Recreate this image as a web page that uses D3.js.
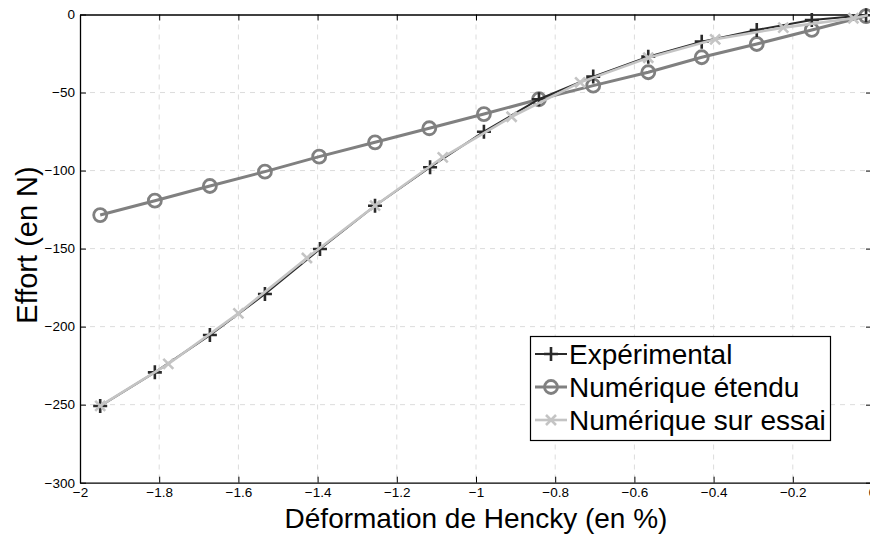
<!DOCTYPE html>
<html><head><meta charset="utf-8">
<script src="https://cdn.jsdelivr.net/npm/d3@7"></script>
<style>body{margin:0;background:#fff;} svg{display:block;font-family:"Liberation Sans",Arial,sans-serif;}</style>
</head><body><svg id="c" width="870" height="534"></svg>
<script>
const xTicks = [-2,-1.8,-1.6,-1.4,-1.2,-1,-0.8,-0.6,-0.4,-0.2,0];
const yTicks = [0,-50,-100,-150,-200,-250,-300];
const expX = [-1.949,-1.811,-1.672,-1.533,-1.394,-1.255,-1.116,-0.980,-0.841,-0.704,-0.565,-0.430,-0.291,-0.152,-0.015];
const expY = [-250.9,-229.3,-205.4,-179.1,-150.3,-122.5,-97.9,-75.1,-54.3,-39.8,-27.0,-17.4,-9.9,-3.5,-0.5];
const etX = [-1.949,-1.811,-1.672,-1.533,-1.396,-1.255,-1.118,-0.980,-0.841,-0.704,-0.565,-0.430,-0.291,-0.152,-0.015];
const etY = [-128.5,-119.3,-109.9,-100.7,-91.1,-81.9,-72.9,-63.8,-54.3,-45.6,-37.0,-27.4,-18.9,-9.9,-1.0];
const esX = [-1.949,-1.777,-1.600,-1.427,-1.255,-1.084,-0.910,-0.737,-0.565,-0.396,-0.224,-0.047,-0.010];
const esY = [-250.8,-223.9,-191.5,-156.0,-122.5,-91.5,-65.5,-43.5,-27.7,-15.9,-8.4,-2.4,-0.5];
const names = ["Expérimental","Numérique étendu","Numérique sur essai"];

const L=80,R=872,T=14.5,B=482.7;
const svg=d3.select("#c");
const x=d3.scaleLinear().domain([-2,0]).range([L,R]);
const y=d3.scaleLinear().domain([-300,0]).range([B,T]);
const fmt=d=>d===0?"0":String(d).replace("-","\u2212");

// grid
const g=svg.append("g");
g.selectAll(".gx").data(xTicks.slice(1,-1)).join("line").attr("x1",d=>x(d)).attr("x2",d=>x(d)).attr("y1",T).attr("y2",B)
 .attr("stroke","#dcdcdc").attr("stroke-dasharray","5,5").attr("stroke-width",1);
g.selectAll(".gy").data(yTicks.slice(1,-1)).join("line").attr("y1",d=>y(d)).attr("y2",d=>y(d)).attr("x1",L).attr("x2",R)
 .attr("stroke","#dcdcdc").attr("stroke-dasharray","5,5").attr("stroke-width",1);

// axes
const ax=d3.axisBottom(x).tickValues(xTicks).tickFormat(fmt).tickSizeInner(-6).tickSizeOuter(0).tickPadding(8);
const axG=svg.append("g").attr("transform",`translate(0,${B})`).call(ax);
const ay=d3.axisLeft(y).tickValues(yTicks).tickFormat(fmt).tickSizeInner(-6).tickSizeOuter(0).tickPadding(5);
const ayG=svg.append("g").attr("transform",`translate(${L},0)`).call(ay);
svg.append("g").attr("transform",`translate(0,${T})`).call(d3.axisTop(x).tickValues(xTicks).tickFormat("").tickSizeInner(-6).tickSizeOuter(0));
svg.append("g").attr("transform",`translate(${R},0)`).call(d3.axisRight(y).tickValues(yTicks).tickFormat("").tickSizeInner(-6).tickSizeOuter(0));
svg.selectAll(".domain").attr("stroke","#000").attr("stroke-width",1.3);
svg.selectAll(".tick line").attr("stroke","#000");
svg.selectAll(".tick text").attr("font-size",13.5).attr("fill","#000").attr("font-family","Liberation Sans, Arial, sans-serif");
axG.selectAll(".tick text").attr("dy","0.45em");

const line=d3.line().x(d=>x(d[0])).y(d=>y(d[1]));
const expD=expX.map((v,i)=>[v,expY[i]]);
const etD=etX.map((v,i)=>[v,etY[i]]);
const esD=esX.map((v,i)=>[v,esY[i]]);
const plot=svg.append("g");
// étendu
plot.append("path").datum(etD).attr("d",line).attr("fill","none").attr("stroke","#808080").attr("stroke-width",3);
plot.selectAll(".c").data(etD).join("circle").attr("cx",d=>x(d[0])).attr("cy",d=>y(d[1])).attr("r",6.5)
 .attr("fill","none").attr("stroke","#808080").attr("stroke-width",2.8);
// expérimental
plot.append("path").datum(expD).attr("d",line).attr("fill","none").attr("stroke","#2a2a2a").attr("stroke-width",2);
const plus=(sel,s,col,w)=>sel.append("path").attr("d",`M${-s},0H${s}M0,${-s}V${s}`).attr("stroke",col).attr("stroke-width",w).attr("fill","none");
plot.selectAll(".p").data(expD).join("g").attr("transform",d=>`translate(${x(d[0])},${y(d[1])})`).each(function(){plus(d3.select(this),7,"#2a2a2a",2.6);});
// essai
plot.append("path").datum(esD).attr("d",line).attr("fill","none").attr("stroke","#c4c4c4").attr("stroke-width",2.6);
const cross=(sel,s,col,w)=>sel.append("path").attr("d",`M${-s},${-s}L${s},${s}M${-s},${s}L${s},${-s}`).attr("stroke",col).attr("stroke-width",w).attr("fill","none");
plot.selectAll(".x").data(esD.slice(0,-1)).join("g").attr("transform",d=>`translate(${x(d[0])},${y(d[1])})`).each(function(){cross(d3.select(this),5,"#c4c4c4",2.6);});

// labels
svg.append("text").attr("x",476).attr("y",528).attr("text-anchor","middle").attr("font-size",28).text("Déformation de Hencky (en %)");
svg.append("text").attr("transform","translate(37,245) rotate(-90)").attr("text-anchor","middle").attr("font-size",29).text("Effort (en N)");

// legend
const lg=svg.append("g");
lg.append("rect").attr("x",530.5).attr("y",336.5).attr("width",300).attr("height",104).attr("fill","#fff").attr("stroke","#000").attr("stroke-width",1.2);
const rows=[354,387,420];
const styles=[{c:"#2a2a2a",w:2,m:"plus"},{c:"#808080",w:3,m:"circle"},{c:"#c4c4c4",w:2.6,m:"cross"}];
names.forEach((n,i)=>{
  const yy=rows[i], st=styles[i];
  lg.append("line").attr("x1",535).attr("x2",567).attr("y1",yy).attr("y2",yy).attr("stroke",st.c).attr("stroke-width",st.w);
  const mg=lg.append("g").attr("transform",`translate(551,${yy})`);
  if(st.m==="plus") plus(mg,7,st.c,2.6);
  else if(st.m==="circle") mg.append("circle").attr("r",6.5).attr("fill","none").attr("stroke",st.c).attr("stroke-width",2.8);
  else cross(mg,5,st.c,2.6);
  lg.append("text").attr("x",569).attr("y",yy).attr("dy","0.36em").attr("font-size",28).text(n);
});
</script></body></html>
